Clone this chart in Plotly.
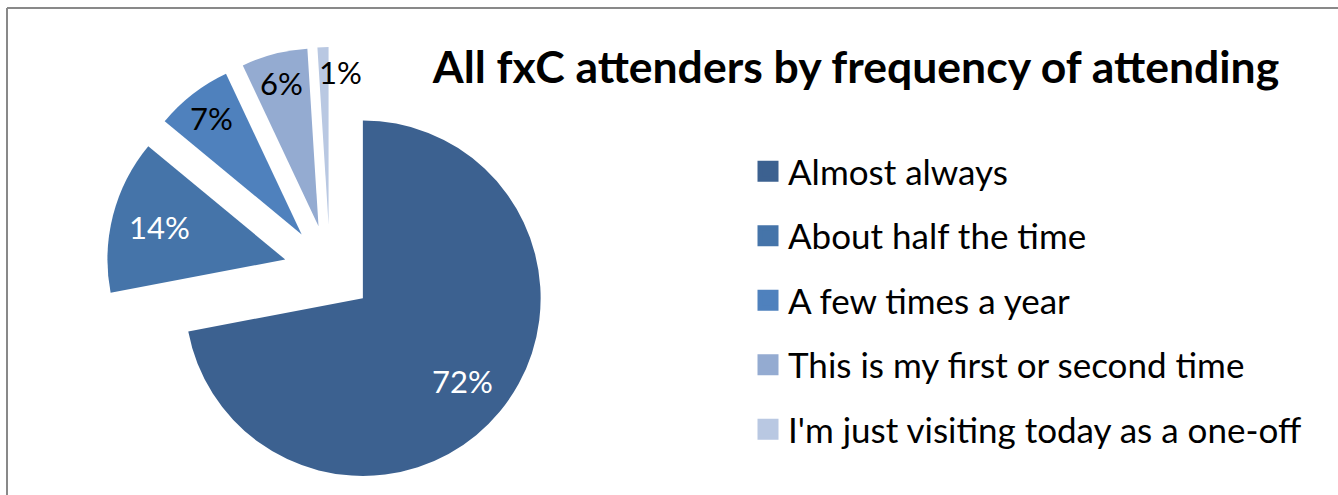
import math
import plotly.graph_objects as go

# Survey answers: how often fxC attenders come along
categories = [
    "Almost always",
    "About half the time",
    "A few times a year",
    "This is my first or second time",
    "I'm just visiting today as a one-off",
]
shares = [72, 14, 7, 6, 1]

colors = ["#3C6190", "#4574A9", "#4F81BD", "#94ABD1", "#B9C8E2"]
label_colors = ["white", "white", "black", "black", "black"]
explode = [0.24, 0.26, 0.26, 0.26, 0.26]

W, H = 1338, 495
FONT = "Lato"
DOM_X = [106 / W, 554 / W]
DOM_Y = [0.0, 0.905]

pct_text = [f"{v}%" for v in shares]

fig = go.Figure()

fig.add_trace(go.Pie(
    labels=categories,
    values=shares,
    sort=False,
    direction="clockwise",
    rotation=0,
    pull=explode,
    marker=dict(colors=colors, line=dict(width=0)),
    textinfo="none",
    domain=dict(x=DOM_X, y=DOM_Y),
    showlegend=False,
    hoverinfo="label+percent",
))

# pie geometry in pixels (same rule plotly uses for a pulled pie)
box_w = W * (DOM_X[1] - DOM_X[0])
box_h = H * (DOM_Y[1] - DOM_Y[0])
radius = min(box_w, box_h) / 2 / (1 + max(explode))
cx = W * (DOM_X[0] + DOM_X[1]) / 2
cy = H * (1 - DOM_Y[0]) - box_h / 2

# percentage labels placed inside each pulled slice along its bisector;
# narrow slices get their label nearer the rim where there is more room
total = sum(shares)
start = 0.0
for i, v in enumerate(shares):
    mid = (start + v / 2) / total * 2 * math.pi
    start += v
    if i == len(shares) - 1:
        continue
    label_r = 0.73 if v >= 10 else 0.83
    dist = (explode[i] + label_r) * radius
    px = cx + dist * math.sin(mid)
    py = cy - dist * math.cos(mid)
    fig.add_annotation(
        text=pct_text[i], x=px / W, y=1 - py / H, xref="paper", yref="paper",
        showarrow=False, font=dict(family=FONT, size=31, color=label_colors[i]),
        xanchor="center", yanchor="middle",
    )

# label for the thin last slice sits beside it
fig.add_annotation(
    text=pct_text[-1], x=341 / W, y=1 - 72 / H, xref="paper", yref="paper",
    showarrow=False, font=dict(family=FONT, size=31, color="black"),
    xanchor="center", yanchor="middle",
)

# legend entries, one group per category so the rows can be spaced out
for name, col in zip(categories, colors):
    fig.add_trace(go.Scatter(
        x=[None], y=[None], mode="markers", name=name,
        legendgroup=name,
        marker=dict(symbol="square", size=16, color=col,
                    line=dict(width=5, color=col)),
        showlegend=True,
    ))

# chart frame (top and left edges)
frame = dict(color="#898989", width=2)
fig.add_shape(type="line", xref="paper", yref="paper",
              x0=7 / W, x1=1.0, y0=1 - 8 / H, y1=1 - 8 / H, line=frame)
fig.add_shape(type="line", xref="paper", yref="paper",
              x0=7 / W, x1=7 / W, y0=0.0, y1=1 - 8 / H, line=frame)

fig.update_layout(
    width=W, height=H,
    margin=dict(l=0, r=0, t=0, b=0),
    paper_bgcolor="white", plot_bgcolor="white",
    title=dict(
        text="<b>All fxC attenders by frequency of attending</b>",
        x=856 / W, y=1 - 67 / H, xanchor="center", yanchor="middle",
        font=dict(family=FONT, size=44.5, color="black"),
    ),
    xaxis=dict(visible=False), yaxis=dict(visible=False),
    legend=dict(
        x=748 / W, y=1 - 142 / H, xanchor="left", yanchor="top",
        font=dict(family=FONT, size=35, color="black"),
        tracegroupgap=16, bgcolor="rgba(0,0,0,0)",
    ),
)

fig.write_html("out.html")
